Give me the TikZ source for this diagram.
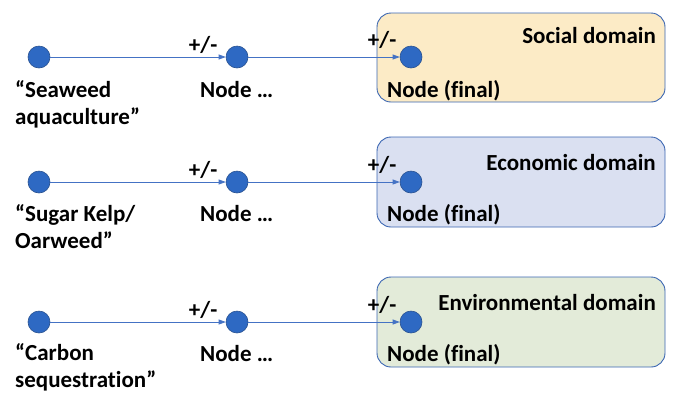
\documentclass[tikz,border=0pt]{standalone}
\usepackage{fontspec}
\setmainfont{Carlito}[Ligatures={TeX,NoCommon}]
\usetikzlibrary{arrows.meta}

\definecolor{dotblue}{HTML}{2E69C3}
\definecolor{dotedge}{HTML}{2A5290}
\definecolor{linkblue}{HTML}{4472C4}
\definecolor{boxedge}{HTML}{3B66B2}
\definecolor{socialfill}{HTML}{FCEBC6}
\definecolor{econfill}{HTML}{DAE0F1}
\definecolor{envfill}{HTML}{E3EBD9}

\begin{document}
\begin{tikzpicture}[x=1pt, y=-1pt,
    dot/.style={circle, fill=dotblue, draw=dotedge, line width=0.6pt, minimum size=22pt, inner sep=0pt},
    link/.style={linkblue, line width=0.7pt, -{Triangle[length=7pt, width=5pt]}},
    domainbox/.style={draw=boxedge, line width=0.9pt, rounded corners=14pt},
    txt/.style={font=\fontsize{23}{27}\selectfont\bfseries, text=black, inner sep=0pt, align=left},
    sign/.style={txt, anchor=base east}
  ]
            \useasboundingbox (0,0) rectangle (676,392);

            % domain boxes
            \filldraw[domainbox, fill=socialfill] (377,13) rectangle (665,102);
            \filldraw[domainbox, fill=econfill] (377,137) rectangle (665,227);
            \filldraw[domainbox, fill=envfill] (377,277) rectangle (665,367);

            \node[txt, anchor=base east] (social) at (656,43) {Social domain};
            \node[txt, anchor=base east] (economic) at (656,170) {Economic domain};
            \node[txt, anchor=base east] (environmental) at (656,310) {Environmental domain};

            % row 1
            \node[dot] (seaweed) at (39,57) {};
            \node[dot] (mid1) at (237,57) {};
            \node[dot] (final1) at (411,57) {};
            \node[txt, anchor=north west] (seaweedlabel) at (15,80) {“Seaweed\\aquaculture”};
            \node[txt, anchor=base west] (mid1label) at (200,97) {Node …};
            \node[txt, anchor=base west] (final1label) at (387,97) {Node (final)};
            \draw[link] (seaweed) -- (mid1) node[sign, pos=1, xshift=-8pt, yshift=5pt] {+/-};
            \draw[link] (mid1) -- (final1) node[sign, pos=1, xshift=-3pt, yshift=10pt] {+/-};

            % row 2
            \node[dot] (kelp) at (39,182) {};
            \node[dot] (mid2) at (237,182) {};
            \node[dot] (final2) at (411,182) {};
            \node[txt, anchor=north west] (kelplabel) at (15,204) {“Sugar Kelp/\\Oarweed”};
            \node[txt, anchor=base west] (mid2label) at (200,221) {Node …};
            \node[txt, anchor=base west] (final2label) at (387,221) {Node (final)};
            \draw[link] (kelp) -- (mid2) node[sign, pos=1, xshift=-8pt, yshift=5pt] {+/-};
            \draw[link] (mid2) -- (final2) node[sign, pos=1, xshift=-3pt, yshift=10pt] {+/-};

            % row 3
            \node[dot] (carbon) at (39,322) {};
            \node[dot] (mid3) at (237,322) {};
            \node[dot] (final3) at (411,322) {};
            \node[txt, anchor=north west] (carbonlabel) at (15,343) {“Carbon\\sequestration”};
            \node[txt, anchor=base west] (mid3label) at (200,361) {Node …};
            \node[txt, anchor=base west] (final3label) at (387,361) {Node (final)};
            \draw[link] (carbon) -- (mid3) node[sign, pos=1, xshift=-8pt, yshift=5pt] {+/-};
            \draw[link] (mid3) -- (final3) node[sign, pos=1, xshift=-3pt, yshift=10pt] {+/-};
        \end{tikzpicture}
\end{document}
